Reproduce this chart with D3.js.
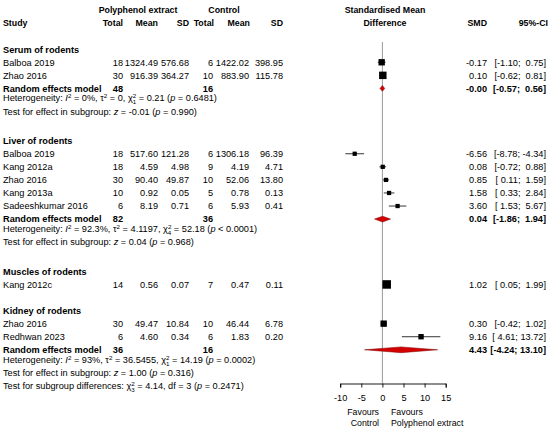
<!DOCTYPE html>
<html>
<head>
<meta charset="utf-8">
<style>
    body { margin: 0; background: #fff; }
    svg text { font-family: "Liberation Sans", Arial, sans-serif; font-size: 9.2px; fill: #000; white-space: pre; }
    svg text.h { font-size: 8.8px; }
    .b { font-weight: bold; }
</style>
</head>
<body>
<svg id="chart" width="550" height="430"></svg>
<script src="https://d3js.org/d3.v7.min.js"></script>
<script>
    // ---- data ----
    let groups = ["Serum of rodents", "Liver of rodents", "Muscles of rodents", "Kidney of rodents"]

    let study = ["Balboa 2019", "Zhao 2016", "Balboa 2019", "Kang 2012a", "Zhao 2016",
                 "Kang 2013a", "Sadeeshkumar 2016", "Kang 2012c", "Zhao 2016", "Redhwan 2023"]
    let studyGroup = [0, 0, 1, 1, 1, 1, 1, 2, 3, 3]

    let nE = [18, 30, 18, 18, 30, 10, 6, 14, 30, 6]
    let meanE = [1324.49, 916.39, 517.60, 4.59, 90.40, 0.92, 8.19, 0.56, 49.47, 4.60]
    let sdE = [576.68, 364.27, 121.28, 4.98, 49.87, 0.05, 0.71, 0.07, 10.84, 0.34]
    let nC = [6, 10, 6, 9, 10, 5, 6, 7, 10, 6]
    let meanC = [1422.02, 883.90, 1306.18, 4.19, 52.06, 0.78, 5.93, 0.47, 46.44, 1.83]
    let sdC = [398.95, 115.78, 96.39, 4.71, 13.80, 0.13, 0.41, 0.11, 6.78, 0.20]

    let smd = [-0.17, 0.10, -6.56, 0.08, 0.85, 1.58, 3.60, 1.02, 0.30, 9.16]
    let lower = [-1.10, -0.62, -8.78, -0.72, 0.11, 0.33, 1.53, 0.05, -0.42, 4.61]
    let upper = [0.75, 0.81, -4.34, 0.88, 1.59, 2.84, 5.67, 1.99, 1.02, 13.72]
    let boxWeight = [56, 77, 25, 25, 25, 25, 25, 100, 56, 40]

    // pooled (random effects) per subgroup, null where only one study
    let poolSmd = [-0.00, 0.04, null, 4.43]
    let poolLower = [-0.57, -1.86, null, -4.24]
    let poolUpper = [0.56, 1.94, null, 13.10]
    let poolNE = [48, 82, null, 36]
    let poolNC = [16, 36, null, 16]

    let hetI2 = ["0%", "92.3%", null, "93%"]
    let hetTau2 = ["0", "4.1197", null, "36.5455"]
    let hetDf = ["1", "4", null, "1"]
    let hetQ = ["0.21", "52.18", null, "14.19"]
    let hetP = ["= 0.6481", "< 0.0001", null, "= 0.0002"]
    let testZ = ["-0.01", "0.04", null, "1.00"]
    let testP = ["0.990", "0.968", null, "0.316"]

    let diffQ = "4.14", diffDf = "3", diffP = "0.2471"

    let axisTicks = [-10, -5, 0, 5, 10, 15]

    // ---- layout ----
    let svg = d3.select("#chart")
    let loc = d3.formatLocale({ decimal: ".", thousands: ",", grouping: [3], currency: ["$", ""], minus: "-" })
    let f2 = loc.format(".2f")
    // keep the sign of -0.00 like R does
    let fs = v => (v < 0 || Object.is(v, -0) ? "-" : "") + f2(Math.abs(v))
    let pad = (s, w) => " ".repeat(Math.max(0, w - s.length)) + s

    let x = d3.scaleLinear().domain([-10, 15]).range([340.2, 445.7])
    let y = d3.scaleLinear().domain([0, 29]).range([10, 389])
    let box = d3.scaleSqrt().domain([0, 100]).range([0, 8.5])

    // build the row list
    let rows = []
    let r = 3
    groups.forEach((g, gi) => {
        rows.push({ type: "group", row: r++, gi })
        study.forEach((s, i) => { if (studyGroup[i] === gi) rows.push({ type: "study", row: r++, i }) })
        if (poolSmd[gi] !== null) {
            rows.push({ type: "pooled", row: r++, gi })
            rows.push({ type: "het", row: r++, gi })
            rows.push({ type: "test", row: r++, gi })
        }
        if (gi < groups.length - 1) r++
    })
    rows.push({ type: "diff", row: r })

    function txt(xx, row, s, anchor, bold) {
        return svg.append("text")
            .attr("x", xx).attr("y", y(row)).attr("dy", "0.36em")
            .attr("text-anchor", anchor || "start")
            .attr("class", bold ? "b" : null)
            .text(s)
    }
    function head(xx, row, s, anchor) {
        return txt(xx, row, s, anchor, true).attr("class", "b h")
    }

    function rich(row, segs) {
        let t = svg.append("text").attr("x", 3).attr("y", y(row)).attr("dy", "0.36em")
        let off = 0
        segs.forEach(s => {
            let [str, k, extra] = typeof s === "string" ? [s, ""] : s
            if (k === "sup" || k === "supsub") {
                t.append("tspan").attr("dy", -3.3 - off).style("font-size", "6.2px").text(str)
                off = -3.3
                if (k === "supsub") {
                    t.append("tspan").attr("dx", -3.5).attr("dy", 6).style("font-size", "6.2px").text(extra)
                    off = 2.7
                }
            } else {
                t.append("tspan").attr("dy", -off).style("font-style", k === "i" ? "italic" : null).text(str)
                off = 0
            }
        })
    }

    // columns (right edges)
    let col = { nE: 123, meanE: 158, sdE: 189, nC: 213, meanC: 249, sdC: 283, smd: 487, ci: 546 }

    // header
    head(138, 0, "Polyphenol extract", "middle")
    head(224, 0, "Control", "middle")
    head(385, 0, "Standardised Mean", "middle")
    head(3, 1, "Study", "start")
    head(col.nE, 1, "Total", "end")
    head(158, 1, "Mean", "end")
    head(189, 1, "SD", "end")
    head(214, 1, "Total", "end")
    head(250, 1, "Mean", "end")
    head(283, 1, "SD", "end")
    head(385, 1, "Difference", "middle")
    head(col.smd, 1, "SMD", "end")
    head(548, 1, "95%-CI", "end")

    // null line
    svg.append("line")
        .attr("x1", x(0)).attr("x2", x(0))
        .attr("y1", 42).attr("y2", 383)
        .attr("stroke", "#9a9a9a").attr("stroke-width", 1)

    function ciText(row, est, lo, hi, bold) {
        txt(col.smd, row, fs(est), "end", bold)
        txt(col.ci, row, "[" + pad(fs(lo), 5) + "; " + pad(fs(hi), 5) + "]", "end", bold)
    }

    rows.forEach(d => {
        if (d.type === "group") {
            txt(3, d.row, groups[d.gi], "start", true)
        } else if (d.type === "study") {
            let i = d.i
            txt(3, d.row, study[i])
            txt(col.nE, d.row, nE[i], "end")
            txt(col.meanE, d.row, f2(meanE[i]), "end")
            txt(col.sdE, d.row, f2(sdE[i]), "end")
            txt(col.nC, d.row, nC[i], "end")
            txt(col.meanC, d.row, f2(meanC[i]), "end")
            txt(col.sdC, d.row, f2(sdC[i]), "end")
            ciText(d.row, smd[i], lower[i], upper[i], false)

            let cy = y(d.row)
            svg.append("line")
                .attr("x1", x(lower[i])).attr("x2", x(upper[i]))
                .attr("y1", cy).attr("y2", cy)
                .attr("stroke", "#000").attr("stroke-width", 0.8)
            let s = box(boxWeight[i])
            svg.append("rect")
                .attr("x", x(smd[i]) - s / 2).attr("y", cy - s / 2)
                .attr("width", s).attr("height", s)
                .attr("fill", "#000")
        } else if (d.type === "pooled") {
            let g = d.gi
            txt(3, d.row, "Random effects model", "start", true)
            txt(col.nE, d.row, poolNE[g], "end", true)
            txt(col.nC, d.row, poolNC[g], "end", true)
            ciText(d.row, poolSmd[g], poolLower[g], poolUpper[g], true)
            let cy = y(d.row), h = 2.9
            let pts = [[x(poolLower[g]), cy], [x(poolSmd[g]), cy - h], [x(poolUpper[g]), cy], [x(poolSmd[g]), cy + h]]
            svg.append("path")
                .attr("d", d3.line()(pts) + "Z")
                .attr("fill", "#d40000")
                .attr("stroke", "#7a0000").attr("stroke-width", 0.5)
        } else if (d.type === "het") {
            let g = d.gi
            rich(d.row, ["Heterogeneity: ", ["I", "i"], ["2", "sup"], " = " + hetI2[g] + ", ",
                "\u03c4", ["2", "sup"], " = " + hetTau2[g] + ", ",
                "\u03c7", ["2", "supsub", hetDf[g]], " = " + hetQ[g] + " (", ["p", "i"], " " + hetP[g] + ")"])
        } else if (d.type === "test") {
            let g = d.gi
            rich(d.row, ["Test for effect in subgroup: ", ["z", "i"], " = " + testZ[g] + " (", ["p", "i"], " = " + testP[g] + ")"])
        } else if (d.type === "diff") {
            rich(d.row, ["Test for subgroup differences: ", "\u03c7", ["2", "supsub", diffDf],
                " = " + diffQ + ", df = " + diffDf + " (", ["p", "i"], " = " + diffP + ")"])
        }
    })

    // x axis
    let xAxis = d3.axisBottom(x)
        .tickValues(axisTicks)
        .tickSize(4).tickSizeOuter(4)
        .tickPadding(7)
        .tickFormat(loc.format("d"))
    let ax = svg.append("g")
        .attr("transform", "translate(0,383.5)")
        .call(xAxis)
    ax.selectAll("path,line").attr("stroke", "#000").attr("stroke-width", 0.9)

    // favours labels
    let fav = [["Favours", "Favours"], ["Control", "Polyphenol extract"]]
    fav.forEach((pair, k) => {
        let row = 30.75 + k * 0.83
        txt(379, row, pair[0], "end").attr("class", "h")
        txt(391, row, pair[1], "start").attr("class", "h")
    })
</script>
</body>
</html>
